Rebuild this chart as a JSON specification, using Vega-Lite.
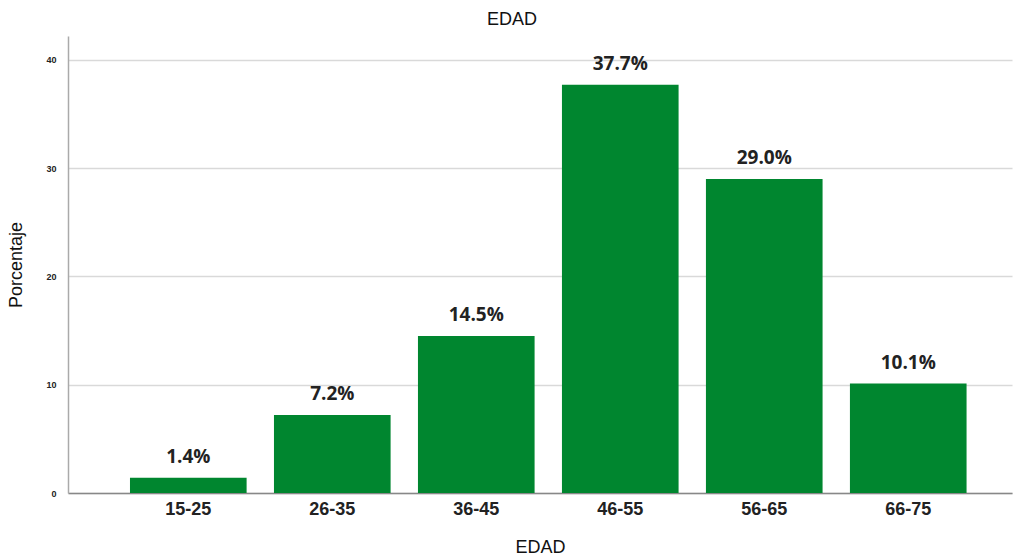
{
  "$schema": "https://vega.github.io/schema/vega-lite/v6.json",
  "width": 944,
  "height": 457,
  "autosize": {"type": "none"},
  "padding": {"left": 68, "top": 36, "right": 3, "bottom": 67},
  "background": "white",
  "title": {"text": "EDAD", "font": "Liberation Sans", "fontSize": 18, "fontWeight": "normal", "color": "#111", "anchor": "middle", "frame": "group", "offset": 7, "dx": -28},
  "data": {"values": [
    {"edad": "15-25", "pct": 1.4, "label": "1.4%"},
    {"edad": "26-35", "pct": 7.2, "label": "7.2%"},
    {"edad": "36-45", "pct": 14.5, "label": "14.5%"},
    {"edad": "46-55", "pct": 37.7, "label": "37.7%"},
    {"edad": "56-65", "pct": 29.0, "label": "29.0%"},
    {"edad": "66-75", "pct": 10.1, "label": "10.1%"}
  ]},
  "config": {"view": {"stroke": null}},
  "encoding": {
    "x": {"field": "edad", "type": "nominal", "sort": null,
      "scale": {"paddingInner": 0.19, "paddingOuter": 0.373, "align": 0.577},
      "axis": {"title": "EDAD", "titleFont": "Liberation Sans", "titleFontSize": 18, "titleFontWeight": "normal", "titleColor": "#111", "titlePadding": 20,
        "labelFont": "Liberation Sans", "labelFontSize": 18, "labelFontWeight": "bold", "labelColor": "#222", "labelAngle": 0, "labelPadding": 7,
        "ticks": false, "domainColor": "#888", "domainWidth": 1.5}},
    "y": {"field": "pct", "type": "quantitative",
      "scale": {"domain": [0, 42.2], "nice": false},
      "axis": {"title": "Porcentaje", "titleFont": "Liberation Sans", "titleFontSize": 18, "titleFontWeight": "normal", "titleColor": "#111", "titlePadding": 20,
        "values": [0, 10, 20, 30, 40], "labelFont": "Liberation Sans", "labelFontSize": 9, "labelFontWeight": "bold", "labelColor": "#222", "labelPadding": 12,
        "ticks": false, "domainColor": "#aaa", "domainWidth": 1.5, "gridColor": "#d9d9d9", "gridWidth": 1.5}}
  },
  "layer": [
    {"mark": {"type": "bar", "color": "#00862F"}},
    {"mark": {"type": "text", "baseline": "bottom", "dy": -11, "font": "Open Sans", "fontSize": 19, "fontWeight": "bold", "color": "#222"},
      "encoding": {"text": {"field": "label", "type": "nominal"}}}
  ]
}
